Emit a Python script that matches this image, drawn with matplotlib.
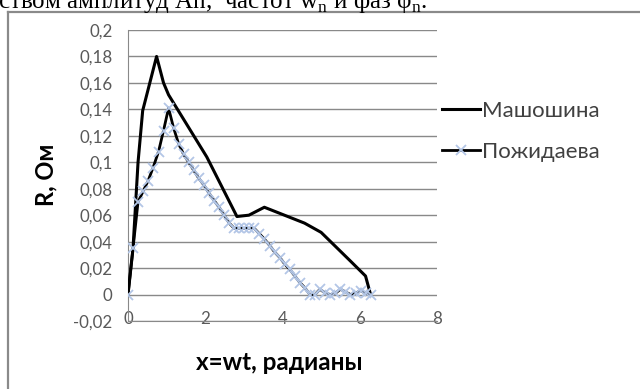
import numpy as np
import matplotlib.pyplot as plt
from matplotlib.lines import Line2D

# --- data ---
mash_x = [0, 0.13, 0.26, 0.38, 0.74, 0.92, 1.05, 2.04, 2.82, 3.13, 3.53, 4.57, 5.0, 5.77, 6.15, 6.28]
mash_y = [0, 0.035, 0.100, 0.139, 0.180, 0.160, 0.151, 0.104, 0.059, 0.060, 0.066, 0.054, 0.047, 0.025, 0.014, 0.0]

pozh_x = [0, 0.13, 0.26, 0.39, 0.52, 0.65, 0.79, 0.92, 1.05, 1.18, 1.31, 1.44, 1.57,
          1.70, 1.83, 1.96, 2.09, 2.23, 2.36, 2.49, 2.62, 2.75, 2.88, 3.01, 3.14,
          3.27, 3.40, 3.53, 3.67, 3.80, 3.93, 4.06, 4.19, 4.32, 4.45, 4.58, 4.71,
          4.84, 4.97, 5.11, 5.24, 5.37, 5.50, 5.63, 5.76, 5.89, 6.02, 6.15, 6.28]
pozh_y = [0, 0.035, 0.070, 0.078, 0.086, 0.096, 0.108, 0.124, 0.141, 0.126, 0.114, 0.106, 0.100,
          0.094, 0.088, 0.083, 0.077, 0.071, 0.066, 0.060, 0.054, 0.050, 0.050, 0.050, 0.050,
          0.050, 0.046, 0.042, 0.037, 0.032, 0.028, 0.023, 0.019, 0.014, 0.009, 0.005, 0.0,
          0.0, 0.004, 0.001, 0.0, 0.001, 0.004, 0.002, 0.0, 0.001, 0.003, 0.001, 0.0]

labels = ['Машошина', 'Пожидаева']
x_ticks = [0, 2, 4, 6, 8]
y_ticks = [-0.02, 0, 0.02, 0.04, 0.06, 0.08, 0.1, 0.12, 0.14, 0.16, 0.18, 0.2]


def fmt(v):
    # comma as decimal separator, like the original
    return ('%g' % round(v, 2)).replace('.', ',')


fig = plt.figure(figsize=(6.4, 3.89), dpi=100)
ax = fig.add_axes([128 / 640, 1 - 321 / 389, (437 - 128) / 640, (321 - 30) / 389])

grid_c = '#898989'
ax.plot(mash_x, mash_y, color='black', lw=2.2, label=labels[0], zorder=3)
ax.plot(pozh_x, pozh_y, color='black', lw=2.0, marker='x', ms=7, mec='#b3c6e6',
        mew=1.3, label=labels[1], zorder=4)

ax.set_xlim(0, 8)
ax.set_ylim(-0.02, 0.2)
ax.set_xticks(x_ticks)
ax.set_yticks(y_ticks)
ax.set_xticklabels([str(t) for t in x_ticks])
ax.set_yticklabels([fmt(t) for t in y_ticks])
ax.yaxis.grid(True, color=grid_c, lw=1)
ax.set_axisbelow(True)
for s in ['top', 'right']:
    ax.spines[s].set_visible(False)
ax.spines['left'].set_color(grid_c)
ax.spines['bottom'].set_color(grid_c)
ax.tick_params(axis='both', length=0, labelsize=12.2, labelcolor='#595959')
ax.tick_params(axis='y', pad=11)
ax.tick_params(axis='x', pad=-7)
for t in ax.get_xticklabels() + ax.get_yticklabels():
    t.set_family('Lato')

fig.text(46 / 640, 1 - 175 / 389, 'R, Ом', rotation=90, ha='center', va='center',
         fontsize=17, fontweight='bold', family='Lato')
fig.text(279 / 640, 1 - 362 / 389, 'x=wt, радианы', ha='center', va='center',
         fontsize=17.5, fontweight='bold', family='Lato')

leg = ax.legend(loc='upper left', bbox_to_anchor=(442 / 640, 1 - 101 / 389),
                bbox_transform=fig.transFigure, frameon=False, handlelength=1.7,
                handletextpad=0.1, labelspacing=0.95, borderaxespad=0, borderpad=0,
                prop={'family': 'Lato', 'size': 16})
for t in leg.get_texts():
    t.set_color('#404040')

# document frame and cut-off line of text above the chart
fig.add_artist(Line2D([8 / 640, 8 / 640], [0, 1 - 12 / 389], color='#8a8a8a', lw=1.6,
                      transform=fig.transFigure))
fig.add_artist(Line2D([8 / 640, 1], [1 - 12 / 389, 1 - 12 / 389], color='#8a8a8a', lw=1.6,
                      transform=fig.transFigure))
fig.text(-2 / 640, 1 - 8 / 389,
         r'ством амплитуд An,  частот w$_\mathregular{n}$ и фаз φ$_\mathregular{n}$.',
         ha='left', va='baseline', fontsize=18, family='Liberation Serif')

fig.savefig('out.png', dpi=100)
